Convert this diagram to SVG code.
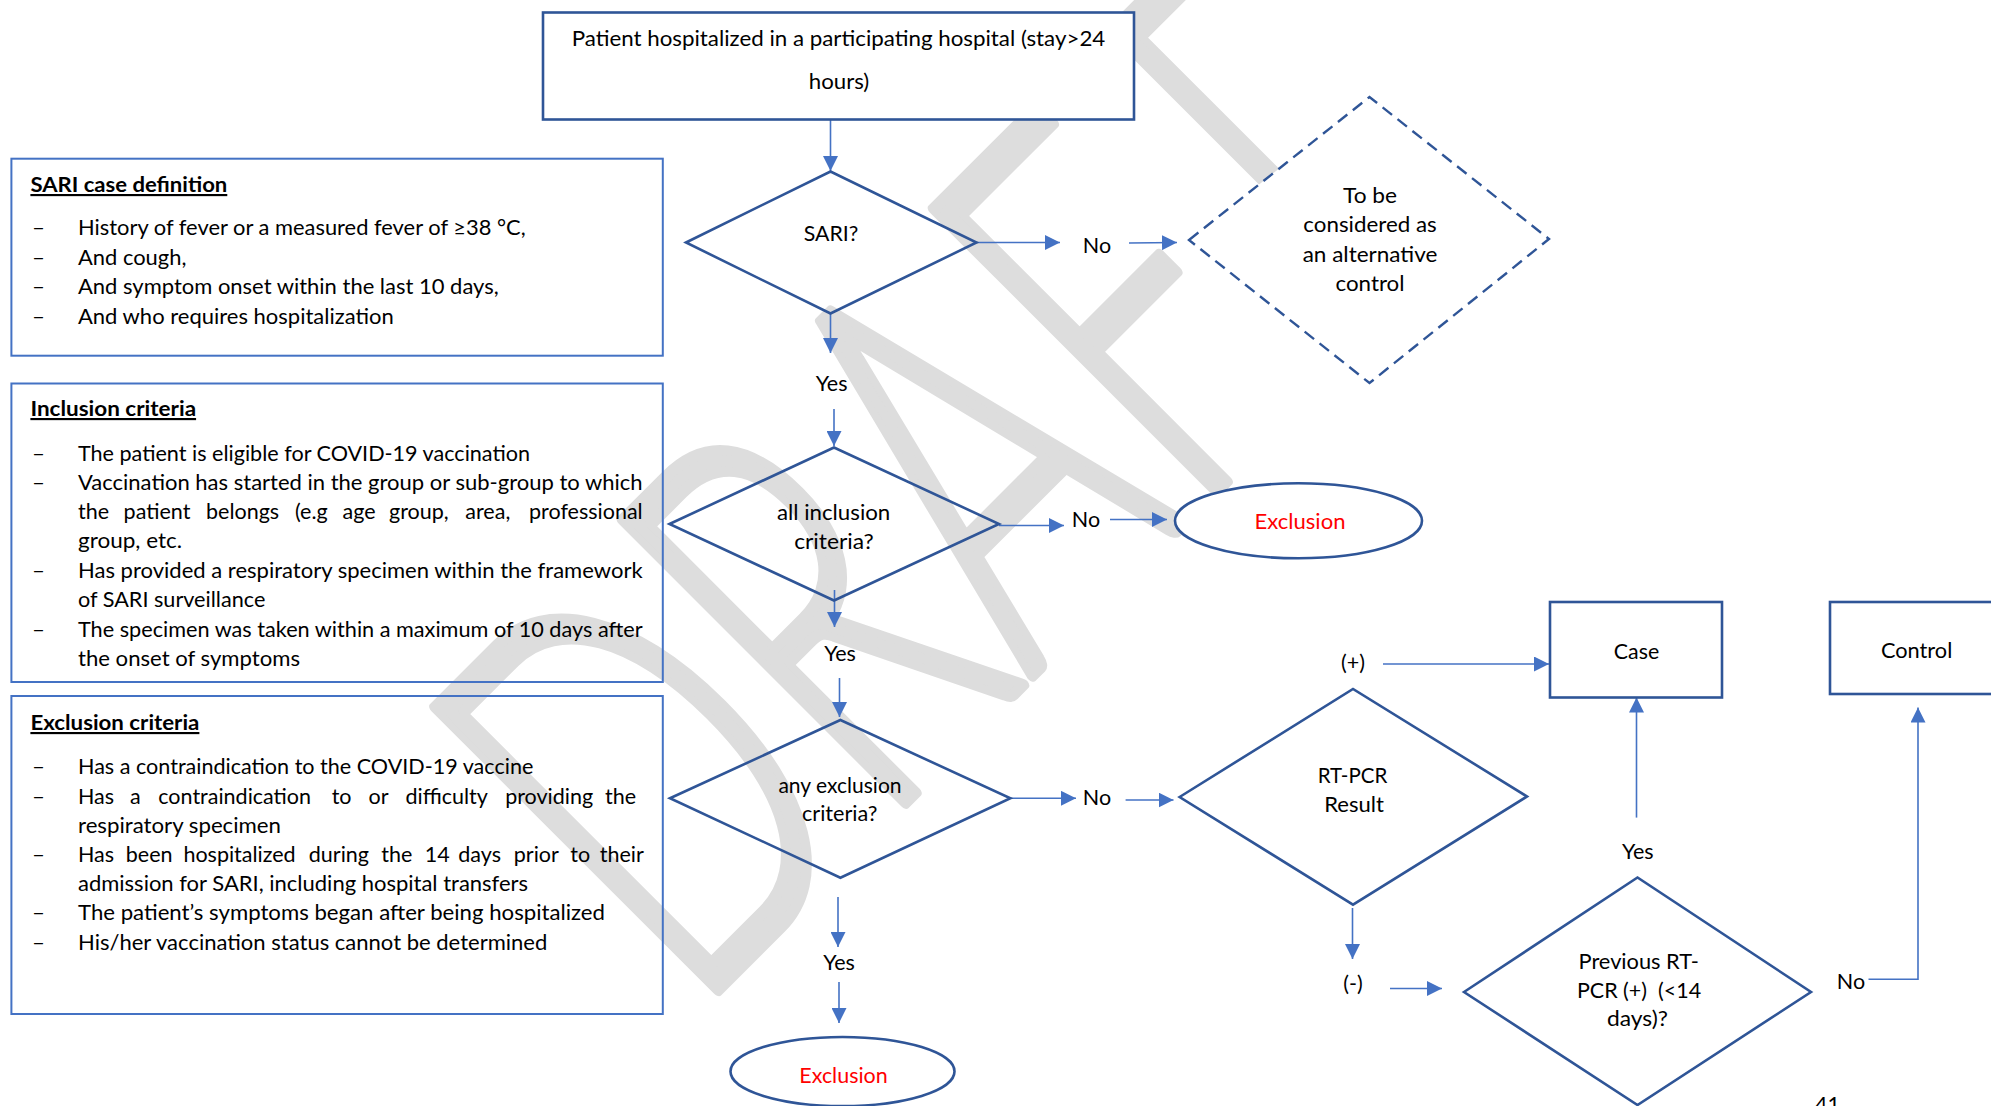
<svg xmlns="http://www.w3.org/2000/svg" width="1991" height="1106" viewBox="0 0 1991 1106">
<defs>
<style>
.t{font-family:Lato,"Open Sans","Liberation Sans",sans-serif;font-size:21.5px;fill:#000}
.c{text-anchor:middle}
.h{font-weight:bold;text-decoration:underline}
.r{fill:#FF0000}
.wm{font-family:Lato,"Open Sans",sans-serif;font-size:565px;font-weight:300;fill:#dddddd;stroke:#dddddd;stroke-width:12;stroke-linejoin:round;stroke-linecap:round}
.lb{fill:none;stroke:#4472C4;stroke-width:2}
.nd{fill:none;stroke:#2F5597;stroke-width:2.6}
.nw{fill:#fff;stroke:#2F5597;stroke-width:2.6}
.ds{fill:#fff;stroke:#2F5597;stroke-width:2.4;stroke-dasharray:12 7}
.cn{fill:none;stroke:#4472C4;stroke-width:1.6}
</style>
<marker id="ah" viewBox="0 0 10 10" refX="10" refY="5" markerWidth="15" markerHeight="15" markerUnits="userSpaceOnUse" orient="auto"><path d="M0,0 L10,5 L0,10 z" fill="#4472C4"/></marker>
</defs>
<rect width="1991" height="1106" fill="#fff"/>
<g id="watermark">
<text class="wm" transform="translate(691,1017) rotate(-45) scale(0.617,1)">DRAFT</text>
</g>

<g id="sari-definition">
<rect class="lb" x="11.4" y="158.7" width="651.4" height="197"/>
<text class="t h" x="30.4" y="192" textLength="196.9" lengthAdjust="spacingAndGlyphs">SARI case definition</text>
<text class="t" x="32" y="235" textLength="13" lengthAdjust="spacingAndGlyphs">–</text>
<text class="t" x="78" y="235" textLength="447.6" lengthAdjust="spacingAndGlyphs">History of fever or a measured fever of ≥38 °C,</text>
<text class="t" x="32" y="264.5" textLength="13" lengthAdjust="spacingAndGlyphs">–</text>
<text class="t" x="78" y="264.5" textLength="108.4" lengthAdjust="spacingAndGlyphs">And cough,</text>
<text class="t" x="32" y="294" textLength="13" lengthAdjust="spacingAndGlyphs">–</text>
<text class="t" x="78" y="294" textLength="420.7" lengthAdjust="spacingAndGlyphs">And symptom onset within the last 10 days,</text>
<text class="t" x="32" y="323.5" textLength="13" lengthAdjust="spacingAndGlyphs">–</text>
<text class="t" x="78" y="323.5" textLength="315.7" lengthAdjust="spacingAndGlyphs">And who requires hospitalization</text>
</g>

<g id="inclusion-criteria">
<rect class="lb" x="11.4" y="383.5" width="651.4" height="298.5"/>
<text class="t h" x="30.4" y="416" textLength="165.7" lengthAdjust="spacingAndGlyphs">Inclusion criteria</text>
<text class="t" x="32" y="461" textLength="13" lengthAdjust="spacingAndGlyphs">–</text>
<text class="t" x="78" y="461" textLength="452" lengthAdjust="spacingAndGlyphs">The patient is eligible for COVID-19 vaccination</text>
<text class="t" x="32" y="490" textLength="13" lengthAdjust="spacingAndGlyphs">–</text>
<text class="t" x="78" y="490" textLength="564.6" lengthAdjust="spacingAndGlyphs">Vaccination has started in the group or sub-group to which</text>
<text class="t" y="519"><tspan x="78">the</tspan><tspan x="123.6">patient</tspan><tspan x="206">belongs</tspan><tspan x="295">(e.g</tspan><tspan x="342.6">age</tspan><tspan x="389">group,</tspan><tspan x="465.3">area,</tspan><tspan x="529">professional</tspan></text>
<text class="t" x="78" y="548" textLength="104" lengthAdjust="spacingAndGlyphs">group, etc.</text>
<text class="t" x="32" y="577.5" textLength="13" lengthAdjust="spacingAndGlyphs">–</text>
<text class="t" x="78" y="577.5" textLength="564.6" lengthAdjust="spacingAndGlyphs">Has provided a respiratory specimen within the framework</text>
<text class="t" x="78" y="606.5" textLength="187.3" lengthAdjust="spacingAndGlyphs">of SARI surveillance</text>
<text class="t" x="32" y="637" textLength="13" lengthAdjust="spacingAndGlyphs">–</text>
<text class="t" x="78" y="637" textLength="564.6" lengthAdjust="spacingAndGlyphs">The specimen was taken within a maximum of 10 days after</text>
<text class="t" x="78" y="666" textLength="222" lengthAdjust="spacingAndGlyphs">the onset of symptoms</text>
</g>

<g id="exclusion-criteria">
<rect class="lb" x="11.4" y="696" width="651.4" height="318"/>
<text class="t h" x="30.4" y="730" textLength="169" lengthAdjust="spacingAndGlyphs">Exclusion criteria</text>
<text class="t" x="32" y="774" textLength="13" lengthAdjust="spacingAndGlyphs">–</text>
<text class="t" x="78" y="774" textLength="455.3" lengthAdjust="spacingAndGlyphs">Has a contraindication to the COVID-19 vaccine</text>
<text class="t" x="32" y="804" textLength="13" lengthAdjust="spacingAndGlyphs">–</text>
<text class="t" y="804"><tspan x="78">Has</tspan><tspan x="130">a</tspan><tspan x="158.3">contraindication</tspan><tspan x="331.7">to</tspan><tspan x="368.6">or</tspan><tspan x="405.5">difficulty</tspan><tspan x="505.2">providing</tspan><tspan x="605">the</tspan></text>
<text class="t" x="78" y="832.5" textLength="203" lengthAdjust="spacingAndGlyphs">respiratory specimen</text>
<text class="t" x="32" y="862" textLength="13" lengthAdjust="spacingAndGlyphs">–</text>
<text class="t" y="862"><tspan x="78">Has</tspan><tspan x="125.8">been</tspan><tspan x="183.4">hospitalized</tspan><tspan x="308.8">during</tspan><tspan x="381.3">the</tspan><tspan x="424.8">14</tspan><tspan x="458.3">days</tspan><tspan x="513.8">prior</tspan><tspan x="570.3">to</tspan><tspan x="599.8">their</tspan></text>
<text class="t" x="78" y="890.5" textLength="450" lengthAdjust="spacingAndGlyphs">admission for SARI, including hospital transfers</text>
<text class="t" x="32" y="920" textLength="13" lengthAdjust="spacingAndGlyphs">–</text>
<text class="t" x="78" y="920" textLength="527" lengthAdjust="spacingAndGlyphs">The patient’s symptoms began after being hospitalized</text>
<text class="t" x="32" y="949.5" textLength="13" lengthAdjust="spacingAndGlyphs">–</text>
<text class="t" x="78" y="949.5" textLength="469.3" lengthAdjust="spacingAndGlyphs">His/her vaccination status cannot be determined</text>
</g>

<g id="connectors">
<line class="cn" x1="830.5" y1="120" x2="830.5" y2="171" marker-end="url(#ah)"/>
<line class="cn" x1="976.5" y1="242.5" x2="1060" y2="242.5" marker-end="url(#ah)"/>
<line class="cn" x1="1129" y1="243" x2="1177" y2="242.5" marker-end="url(#ah)"/>
<line class="cn" x1="830.5" y1="314" x2="830.5" y2="353" marker-end="url(#ah)"/>
<line class="cn" x1="834" y1="409" x2="834" y2="446" marker-end="url(#ah)"/>
<line class="cn" x1="999" y1="525.5" x2="1064" y2="525.5" marker-end="url(#ah)"/>
<line class="cn" x1="1110" y1="519.5" x2="1167" y2="519.5" marker-end="url(#ah)"/>
<line class="cn" x1="834.5" y1="590" x2="834.5" y2="627" marker-end="url(#ah)"/>
<line class="cn" x1="839.5" y1="678" x2="839.5" y2="717" marker-end="url(#ah)"/>
<line class="cn" x1="1010" y1="798.3" x2="1076" y2="798.3" marker-end="url(#ah)"/>
<line class="cn" x1="1125.6" y1="800" x2="1173.5" y2="800" marker-end="url(#ah)"/>
<line class="cn" x1="838" y1="897" x2="838" y2="947" marker-end="url(#ah)"/>
<line class="cn" x1="839" y1="982" x2="839" y2="1023" marker-end="url(#ah)"/>
<line class="cn" x1="1383" y1="664" x2="1549" y2="664" marker-end="url(#ah)"/>
<line class="cn" x1="1352.5" y1="908" x2="1352.5" y2="959" marker-end="url(#ah)"/>
<line class="cn" x1="1390" y1="988.5" x2="1442" y2="988.5" marker-end="url(#ah)"/>
<line class="cn" x1="1636.5" y1="817.6" x2="1636.5" y2="697.5" marker-end="url(#ah)"/>
<polyline class="cn" points="1868.5,979.3 1918,979.3 1918,707.5" marker-end="url(#ah)"/>
</g>

<g id="start">
<rect class="nw" x="543" y="12.5" width="591" height="107" stroke-width="3"/>
<text class="t c" x="838.5" y="46" textLength="533.6" lengthAdjust="spacingAndGlyphs">Patient hospitalized in a participating hospital (stay&gt;24</text>
<text class="t c" x="839" y="89" textLength="60.5" lengthAdjust="spacingAndGlyphs">hours)</text>
</g>

<g id="sari-decision">
<polygon class="nd" points="686,242.5 830.5,171.5 976.5,242.5 830.5,313.5"/>
<text class="t c" x="831" y="240.7" textLength="54.6" lengthAdjust="spacingAndGlyphs">SARI?</text>
</g>
<g id="sari-no"><text class="t c" x="1097" y="253">No</text></g>
<g id="alternative-control">
<polygon class="ds" points="1189,240 1369.5,97 1549,239 1369.5,383"/>
<text class="t c" x="1370" y="202.5" textLength="54" lengthAdjust="spacingAndGlyphs">To be</text>
<text class="t c" x="1370" y="232" textLength="133.3" lengthAdjust="spacingAndGlyphs">considered as</text>
<text class="t c" x="1370" y="261.5" textLength="134.7" lengthAdjust="spacingAndGlyphs">an alternative</text>
<text class="t c" x="1370" y="291" textLength="69" lengthAdjust="spacingAndGlyphs">control</text>
</g>
<g id="sari-yes"><text class="t c" x="831.6" y="390.7">Yes</text></g>

<g id="inclusion-decision">
<polygon class="nd" points="669.5,524 834,447.5 999,524 834,600.5"/>
<text class="t c" x="833.6" y="520" textLength="113.4" lengthAdjust="spacingAndGlyphs">all inclusion</text>
<text class="t c" x="834" y="549.3" textLength="79.7" lengthAdjust="spacingAndGlyphs">criteria?</text>
</g>
<g id="inclusion-no"><text class="t c" x="1086" y="527.3">No</text></g>
<g id="exclusion-1">
<ellipse class="nw" cx="1298.5" cy="520.8" rx="123.5" ry="37.5" stroke-width="3"/>
<text class="t c r" x="1300" y="529.3" textLength="91" lengthAdjust="spacingAndGlyphs">Exclusion</text>
</g>
<g id="inclusion-yes"><text class="t c" x="840" y="661">Yes</text></g>

<g id="exclusion-decision">
<polygon class="nd" points="670,798.3 840.4,720 1010.4,798.3 840.4,877.7"/>
<text class="t c" x="840" y="793.3" textLength="123.2" lengthAdjust="spacingAndGlyphs">any exclusion</text>
<text class="t c" x="839.7" y="820.7" textLength="75.4" lengthAdjust="spacingAndGlyphs">criteria?</text>
</g>
<g id="exclusion-no"><text class="t c" x="1097" y="805">No</text></g>
<g id="exclusion-yes"><text class="t c" x="839" y="970">Yes</text></g>
<g id="exclusion-2">
<ellipse class="nw" cx="842.5" cy="1071.5" rx="112" ry="34.5" stroke-width="3"/>
<text class="t c r" x="843.5" y="1082.7" textLength="88.4" lengthAdjust="spacingAndGlyphs">Exclusion</text>
</g>

<g id="rtpcr-decision">
<polygon class="nd" points="1179.6,797 1353,689 1527,796.5 1353,904.7"/>
<text class="t c" x="1352.5" y="783" textLength="69.7" lengthAdjust="spacingAndGlyphs">RT-PCR</text>
<text class="t c" x="1354" y="812" textLength="59.7" lengthAdjust="spacingAndGlyphs">Result</text>
</g>
<g id="rtpcr-pos"><text class="t c" x="1353" y="670">(+)</text></g>
<g id="rtpcr-neg"><text class="t c" x="1353" y="991">(-)</text></g>
<g id="case">
<rect class="nd" x="1550" y="602" width="172" height="95.5" stroke-width="3"/>
<text class="t c" x="1636.5" y="659" textLength="45.4" lengthAdjust="spacingAndGlyphs">Case</text>
</g>
<g id="control">
<rect class="nd" x="1830" y="602" width="200" height="92" stroke-width="3"/>
<text class="t c" x="1916.6" y="658" textLength="71.4" lengthAdjust="spacingAndGlyphs">Control</text>
</g>
<g id="previous-yes"><text class="t c" x="1637.8" y="858.5">Yes</text></g>
<g id="previous-decision">
<polygon class="nd" points="1464,992 1637.5,877.5 1811,992 1637.5,1105"/>
<text class="t c" x="1638.7" y="969.3" textLength="120.4" lengthAdjust="spacingAndGlyphs">Previous RT-</text>
<text class="t c" x="1639" y="997.8" textLength="124.2" lengthAdjust="spacingAndGlyphs" style="white-space:pre">PCR (+)  (&lt;14</text>
<text class="t c" x="1637.5" y="1026" textLength="61" lengthAdjust="spacingAndGlyphs">days)?</text>
</g>
<g id="previous-no"><text class="t c" x="1851" y="989.4">No</text></g>
<text class="t" x="1815" y="1112" font-size="22">41</text>
</svg>
